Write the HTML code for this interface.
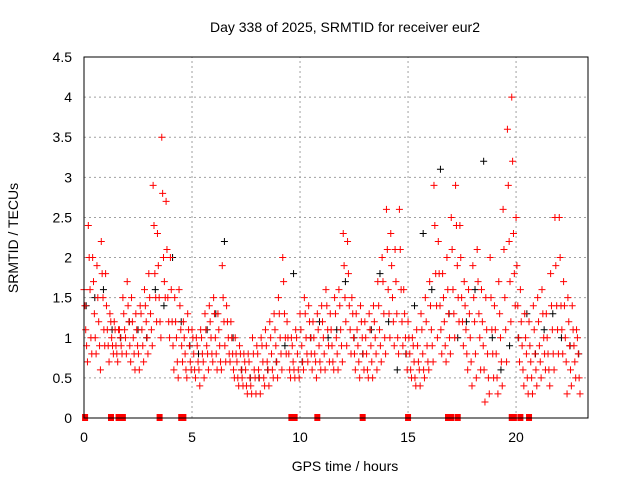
<!DOCTYPE html>
<html><head><meta charset="utf-8"><style>
body{margin:0;background:#fff;}
svg{display:block;font-family:"Liberation Sans",sans-serif;}
</style></head><body>
<svg id="chart" width="640" height="480">
<text x="345" y="32" font-size="14" text-anchor="middle">Day 338 of 2025, SRMTID for receiver eur2</text>
<text x="345" y="471" font-size="14" text-anchor="middle">GPS time / hours</text>
<text transform="translate(18,238) rotate(-90)" font-size="14" text-anchor="middle">SRMTID / TECUs</text>
<g id="grid"></g><g id="marks"></g>
<rect x="84" y="57" width="504" height="361" fill="none" stroke="#000" stroke-width="1"/>
<g id="ticks"></g>
</svg>
<script>
const xTicks=[0,5,10,15,20];
const yTicks=[0,0.5,1,1.5,2,2.5,3,3.5,4,4.5];
const yTickLabels=["0","0.5","1","1.5","2","2.5","3","3.5","4","4.5"];
const timeStep=0.2;
const redHi=[1.6,2.4,2.0,1.9,2.2,1.8,1.3,1.2,1.1,1.5,1.7,1.5,1.3,1.4,1.6,1.8,2.9,2.3,3.5,2.7,2.0,1.5,1.6,1.2,1.3,1.1,1.0,1.1,1.3,1.4,1.5,1.3,1.9,1.4,1.2,1.0,0.9,0.8,0.8,1.0,0.9,1.0,1.1,1.2,1.3,1.5,2.0,1.2,1.0,1.1,1.3,1.5,1.4,1.2,1.3,1.4,1.6,1.3,1.5,1.6,2.3,2.2,1.5,1.3,1.4,1.2,1.3,1.4,1.7,2.0,2.6,2.3,2.1,2.6,1.6,1.2,1.0,1.1,1.3,1.5,1.7,2.9,2.2,1.8,2.0,2.5,2.9,2.4,1.7,1.6,1.9,2.1,1.6,1.5,2.0,1.4,1.7,2.6,3.6,4.0,2.5,1.6,1.3,1.2,1.4,1.5,1.6,1.3,1.8,2.5,2.5,1.7,1.5,1.4,1.1];
const redQ3=[1.4,2.0,1.7,1.5,1.8,1.4,1.2,1.1,1.1,1.3,1.4,1.2,1.1,1.3,1.4,1.5,2.4,1.9,2.8,2.1,1.6,1.2,1.4,1.0,1.1,1.0,0.9,1.0,1.1,1.2,1.3,1.1,1.5,1.2,1.0,0.8,0.8,0.7,0.7,0.8,0.8,0.9,0.9,1.0,1.1,1.3,1.7,1.0,0.9,1.0,1.1,1.3,1.2,1.0,1.1,1.2,1.4,1.1,1.3,1.4,1.9,1.8,1.3,1.1,1.2,1.0,1.1,1.2,1.4,1.7,2.1,1.9,1.7,2.1,1.3,1.0,0.9,0.9,1.1,1.2,1.4,2.4,1.8,1.5,1.6,2.1,2.4,2.0,1.4,1.3,1.5,1.7,1.2,1.1,1.5,1.1,1.3,2.1,2.9,3.2,1.9,1.2,1.0,0.9,1.1,1.2,1.3,1.0,1.4,1.9,2.0,1.4,1.2,1.1,1.0];
const redMid=[1.1,1.6,1.3,1.2,1.5,1.1,1.0,0.9,1.0,1.1,1.2,1.0,0.9,1.1,1.2,1.3,1.8,1.5,2.0,1.5,1.2,1.0,1.1,0.8,0.9,0.8,0.7,0.8,0.9,1.0,1.0,0.9,1.2,1.0,0.8,0.7,0.6,0.6,0.5,0.6,0.6,0.7,0.7,0.8,0.9,1.0,1.3,0.8,0.7,0.8,0.9,1.0,1.0,0.8,0.9,1.0,1.1,0.9,1.0,1.1,1.5,1.4,1.0,0.9,1.0,0.8,0.9,1.0,1.1,1.3,1.6,1.5,1.3,1.6,1.0,0.8,0.7,0.7,0.8,0.9,1.1,1.8,1.4,1.2,1.3,1.6,1.9,1.5,1.1,1.0,1.2,1.3,0.9,0.8,1.1,0.8,1.0,1.5,2.2,2.3,1.4,0.9,0.8,0.7,0.8,0.9,1.0,0.8,1.1,1.4,1.4,1.0,0.9,0.9,0.8];
const redQ1=[0.9,1.0,1.0,0.9,1.1,0.9,0.9,0.8,0.9,1.0,0.9,0.8,0.8,0.9,1.0,1.1,1.5,1.2,1.7,1.2,0.9,0.7,0.9,0.6,0.7,0.6,0.6,0.7,0.8,0.8,0.8,0.7,0.9,0.8,0.6,0.5,0.5,0.4,0.4,0.5,0.5,0.5,0.6,0.6,0.7,0.8,1.0,0.6,0.6,0.6,0.7,0.8,0.8,0.7,0.7,0.8,0.9,0.7,0.8,0.9,1.2,1.1,0.8,0.7,0.8,0.6,0.7,0.8,0.9,1.0,1.3,1.2,1.0,1.2,0.8,0.6,0.5,0.6,0.6,0.7,0.9,1.4,1.1,0.9,1.0,1.3,1.5,1.2,0.8,0.7,0.8,1.0,0.6,0.5,0.8,0.5,0.7,1.1,1.7,1.8,1.0,0.6,0.5,0.5,0.6,0.7,0.8,0.6,0.8,1.1,1.1,0.7,0.6,0.7,0.5];
const redLo=[0.7,0.8,0.8,0.6,0.9,0.7,0.8,0.7,0.8,0.8,0.7,0.6,0.6,0.7,0.8,0.9,1.2,1.0,1.5,1.0,0.6,0.5,0.7,0.5,0.6,0.5,0.4,0.5,0.6,0.7,0.6,0.6,0.7,0.7,0.5,0.4,0.4,0.3,0.3,0.3,0.3,0.4,0.4,0.5,0.5,0.6,0.8,0.5,0.5,0.5,0.6,0.7,0.6,0.5,0.6,0.6,0.7,0.6,0.6,0.7,0.9,0.8,0.6,0.5,0.6,0.5,0.5,0.6,0.7,0.8,1.0,0.9,0.8,0.9,0.6,0.5,0.4,0.4,0.5,0.6,0.7,1.0,0.8,0.7,0.8,1.0,1.2,0.9,0.6,0.4,0.5,0.6,0.2,0.3,0.5,0.3,0.4,0.7,1.2,1.4,0.7,0.4,0.3,0.3,0.4,0.5,0.6,0.4,0.6,0.8,0.8,0.3,0.4,0.5,0.3];
const blackStep=0.4;
const blackVals=[1.4,1.5,1.6,1.1,1.0,1.2,1.1,1.0,1.6,1.4,2.0,1.2,0.9,0.8,1.1,1.3,2.2,1.0,0.6,0.5,0.5,0.6,0.7,0.9,1.8,0.7,1.0,1.2,1.0,1.1,1.7,1.0,0.8,1.1,1.8,1.2,0.6,0.8,1.4,2.3,1.6,3.1,1.3,1.0,1.2,1.6,3.2,1.0,0.6,0.9,1.0,1.3,0.8,1.1,1.3,1.0,0.9,0.8];
const zeroTimes=[0.05,1.25,1.6,1.8,3.5,4.5,4.6,9.6,9.75,10.8,12.9,15.0,16.85,17.0,17.3,19.8,19.9,20.2,20.6];

const X0=84,X1=588,Y0=418,Y1=57,XMAX=23.33,YMAX=4.5;
const xs=t=>X0+t/XMAX*(X1-X0);
const ys=v=>Y0-v/YMAX*(Y0-Y1);
const NS="http://www.w3.org/2000/svg";
const grid=document.getElementById('grid'),ticks=document.getElementById('ticks'),marks=document.getElementById('marks');
function mk(tag,attrs,parent){const e=document.createElementNS(NS,tag);for(const k in attrs)e.setAttribute(k,attrs[k]);parent.appendChild(e);return e;}
yTicks.forEach((v,i)=>{
  const y=ys(v);
  if(v>0&&v<YMAX){const g=mk('line',{x1:X0,x2:X1,y1:y,y2:y,stroke:'#a0a0a0','stroke-dasharray':'2,3','stroke-width':1},grid);
  
  }
  const t=mk('text',{x:X0-12,y:y+5,'font-size':14,'text-anchor':'end'},ticks);
  t.textContent=yTickLabels[i];
  
  
});
xTicks.forEach(v=>{
  const x=xs(v);
  if(v>0){const g=mk('line',{x1:x,x2:x,y1:Y0,y2:Y1,stroke:'#a0a0a0','stroke-dasharray':'2,3','stroke-width':1},grid);
  
  }
  const t=mk('text',{x:x,y:Y0+24,'font-size':14,'text-anchor':'middle'},ticks);
  t.textContent=String(v);
  
  
});
function plus(t,v,color,name){
  const x=xs(t),y=ys(v);
  const p=mk('path',{d:`M${x-3.5},${y}H${x+3.5}M${x},${y-3.5}V${y+3.5}`,stroke:color,'stroke-width':1,fill:'none'},marks);
  
  
}
blackVals.forEach((v,i)=>plus(i*blackStep+0.1,v,'#000','black-point'));
redHi.forEach((v,i)=>plus(i*timeStep,v,'#ff0000','red-point'));
redQ3.forEach((v,i)=>plus(i*timeStep+0.04,v,'#ff0000','red-point'));
redMid.forEach((v,i)=>plus(i*timeStep+0.08,v,'#ff0000','red-point'));
redQ1.forEach((v,i)=>plus(i*timeStep+0.12,v,'#ff0000','red-point'));
redLo.forEach((v,i)=>plus(i*timeStep+0.16,v,'#ff0000','red-point'));
zeroTimes.forEach(t=>{
  const r=mk('rect',{x:xs(t)-3,y:Y0-4,width:6,height:7,fill:'#ff0000'},marks);
  
  
});
</script>
</body></html>
